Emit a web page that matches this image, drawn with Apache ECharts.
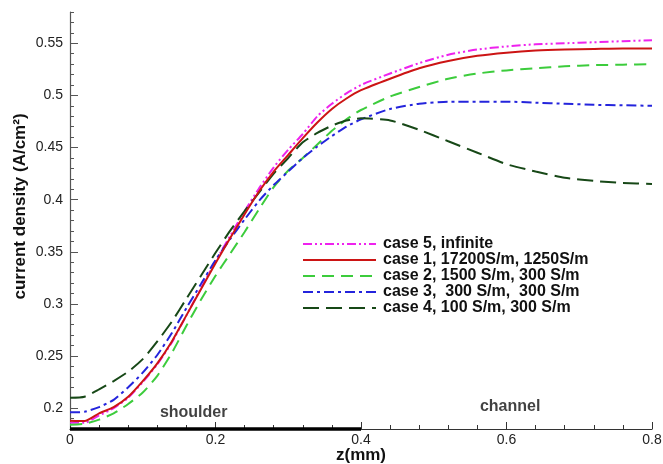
<!DOCTYPE html>
<html>
<head>
<meta charset="utf-8">
<script src="https://cdn.jsdelivr.net/npm/echarts@6/dist/echarts.min.js"></script>
<style>
  html, body { margin: 0; padding: 0; background: #ffffff; }
  #chart { width: 663px; height: 464px; }
</style>
</head>
<body>
<div id="chart"></div>
<script>
// Position along the cell, z (mm)
const zValues = [0, 0.02, 0.04, 0.06, 0.08, 0.10, 0.12, 0.14, 0.16, 0.18, 0.20, 0.22, 0.24, 0.26, 0.28, 0.30,
                 0.32, 0.34, 0.36, 0.38, 0.40, 0.44, 0.48, 0.52, 0.56, 0.60, 0.64, 0.68, 0.72, 0.76, 0.80];

// Current density (A/cm2) for each conductivity case
const case5 = [0.186, 0.186, 0.193, 0.200, 0.210, 0.225, 0.242, 0.263, 0.289, 0.315, 0.341, 0.365, 0.389, 0.411, 0.431, 0.448,
               0.463, 0.480, 0.492, 0.502, 0.510, 0.521, 0.531, 0.539, 0.544, 0.547, 0.549, 0.550, 0.551, 0.552, 0.553];
const case1 = [0.188, 0.1876, 0.195, 0.201, 0.211, 0.226, 0.243, 0.264, 0.289, 0.314, 0.339, 0.363, 0.386, 0.408, 0.427, 0.443,
               0.459, 0.474, 0.487, 0.497, 0.505, 0.516, 0.526, 0.533, 0.538, 0.541, 0.543, 0.544, 0.5445, 0.545, 0.545];
const case2 = [0.184, 0.185, 0.189, 0.195, 0.204, 0.215, 0.231, 0.253, 0.279, 0.304, 0.327, 0.348, 0.369, 0.391, 0.412, 0.428,
               0.440, 0.453, 0.466, 0.477, 0.486, 0.499, 0.508, 0.516, 0.521, 0.524, 0.526, 0.528, 0.529, 0.5295, 0.530];
const case3 = [0.196, 0.1965, 0.201, 0.208, 0.220, 0.234, 0.251, 0.272, 0.296, 0.319, 0.342, 0.362, 0.381, 0.399, 0.414, 0.427,
               0.440, 0.451, 0.461, 0.470, 0.477, 0.487, 0.492, 0.494, 0.494, 0.494, 0.493, 0.492, 0.491, 0.4905, 0.490];
const case4 = [0.210, 0.211, 0.218, 0.226, 0.235, 0.247, 0.264, 0.283, 0.305, 0.327, 0.349, 0.370, 0.389, 0.407, 0.425, 0.440,
               0.455, 0.464, 0.471, 0.476, 0.478, 0.476, 0.467, 0.456, 0.445, 0.434, 0.427, 0.421, 0.418, 0.416, 0.415];

const caseNames = [
  'case 5, infinite',
  'case 1, 17200S/m, 1250S/m',
  'case 2, 1500 S/m, 300 S/m',
  'case 3,  300 S/m,  300 S/m',
  'case 4, 100 S/m, 300 S/m'
];

// Axis ticks
const yTickLabels = [0.2, 0.25, 0.3, 0.35, 0.4, 0.45, 0.5, 0.55];
const yMin = 0.18, yMax = 0.58;
const xMin = 0, xMax = 0.8;

// Shoulder / channel regions along z
const shoulderRange = [0, 0.4];
const regionLabels = [
  { name: 'shoulder', at: [0.17, 0.1955] },
  { name: 'channel',  at: [0.605, 0.2012] }
];

const yMinorTicks = [];
for (let v = 18; v <= 58; v++) yMinorTicks.push(+(v / 100).toFixed(2));

const pairs = arr => zValues.map((z, i) => [z, arr[i]]);

const styles = [
  { color: '#ee22ee', type: [9, 3, 2, 3, 2, 3] },
  { color: '#cc1414', type: 'solid' },
  { color: '#3ccc3c', type: [12, 7] },
  { color: '#2424dc', type: [10, 4, 3, 4] },
  { color: '#174817', type: [16, 7] }
];
const seriesData = [case5, case1, case2, case3, case4];

const caseSeries = seriesData.map((arr, i) => ({
  name: caseNames[i],
  type: 'line',
  data: pairs(arr),
  symbol: 'none',
  smooth: 0.2,
  color: styles[i].color,
  lineStyle: { color: styles[i].color, width: 2, type: styles[i].type },
  z: 3 + (i === 1 ? 1 : 0)
}));

const chart = echarts.init(document.getElementById('chart'), null, { renderer: 'canvas' });

chart.setOption({
  animation: false,
  backgroundColor: '#ffffff',
  textStyle: { fontFamily: 'Arial, "Liberation Sans", sans-serif' },
  grid: { left: 70, right: 11, top: 12, bottom: 35, containLabel: false, outerBoundsMode: 'none' },
  legend: {
    data: caseNames,
    orient: 'vertical',
    left: 297,
    top: 231,
    itemWidth: 73,
    itemHeight: 12,
    itemGap: 0,
    itemStyle: { opacity: 0 },
    textStyle: { fontSize: 16, lineHeight: 15.6, fontWeight: 'bold', color: '#111', padding: [0, 0, 0, 2] }
  },
  xAxis: {
    type: 'value',
    min: xMin,
    max: xMax,
    interval: 0.2,
    name: 'z(mm)',
    nameLocation: 'middle',
    nameGap: 18,
    nameMoveOverlap: false,
    nameTextStyle: { fontSize: 17, fontWeight: 'bold', color: '#111', verticalAlign: 'top' },
    axisLine: { show: true, onZero: false, lineStyle: { color: '#333', width: 1.2 } },
    axisTick: { show: true, inside: true, length: 7, lineStyle: { color: '#333' } },
    minorTick: { show: true, splitNumber: 5, length: 4, lineStyle: { color: '#333' } },
    axisLabel: { fontSize: 14, color: '#222', margin: 4, formatter: v => String(v) },
    splitLine: { show: false }
  },
  yAxis: [
    {
      type: 'value',
      min: yMin,
      max: yMax,
      name: 'current density (A/cm²)',
      nameLocation: 'middle',
      nameRotate: 90,
      nameGap: 41,
      nameMoveOverlap: false,
      nameTextStyle: { fontSize: 17, fontWeight: 'bold', color: '#111', padding: [0, 0, 0, 28] },
      axisLine: { show: true, onZero: false, lineStyle: { color: '#555', width: 1.2 } },
      axisTick: { show: true, inside: true, length: 8, customValues: yTickLabels, lineStyle: { color: '#555' } },
      axisLabel: { fontSize: 14, color: '#222', margin: 7, customValues: yTickLabels, formatter: v => String(v) },
      splitLine: { show: false }
    },
    {
      type: 'value',
      min: yMin,
      max: yMax,
      position: 'left',
      axisLine: { show: false },
      axisTick: { show: true, inside: true, length: 4, customValues: yMinorTicks, lineStyle: { color: '#555' } },
      axisLabel: { show: false },
      splitLine: { show: false }
    }
  ],
  series: [
    ...caseSeries,
    {
      name: 'shoulder',
      type: 'line',
      data: [[shoulderRange[0], yMin], [shoulderRange[1], yMin]],
      symbol: 'none',
      clip: false,
      silent: true,
      lineStyle: { color: '#000', width: 3.5 },
      z: 6
    },
    {
      name: 'regions',
      type: 'scatter',
      symbolSize: 0,
      silent: true,
      data: regionLabels.map(r => ({ name: r.name, value: r.at })),
      label: {
        show: true,
        position: 'inside',
        formatter: p => p.name,
        fontSize: 16,
        fontWeight: 'bold',
        color: '#111'
      }
    }
  ]
});
</script>
</body>
</html>
